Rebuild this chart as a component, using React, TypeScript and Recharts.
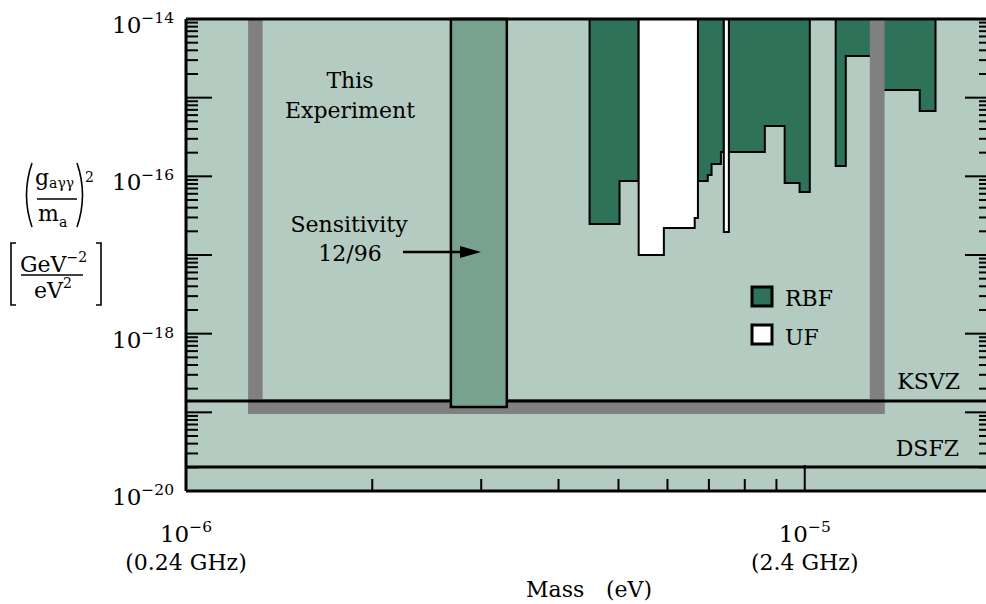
import React from 'react';
import { ComposedChart, Area, XAxis, YAxis, ReferenceArea, ReferenceLine } from 'recharts';

const FONT = '"DejaVu Serif", "Liberation Serif", serif';

// Mass axis (eV), log scale
const massDomain = [1e-6, 2e-5];
const massTicks = [1e-6, 2e-6, 3e-6, 4e-6, 5e-6, 6e-6, 7e-6, 8e-6, 9e-6, 1e-5];
const massTickLabels = [
  { value: 1e-6, exp: '\u22126', freq: '(0.24 GHz)' },
  { value: 1e-5, exp: '\u22125', freq: '(2.4 GHz)' },
];

// Coupling axis (GeV^-2 / eV^2), log scale
const couplingDomain = [1e-20, 1e-14];
const couplingTicks = [
  1e-20, 2e-20, 3e-20, 4e-20, 5e-20, 6e-20, 7e-20, 8e-20, 9e-20,
  1e-19, 2e-19, 3e-19, 4e-19, 5e-19, 6e-19, 7e-19, 8e-19, 9e-19,
  1e-18, 2e-18, 3e-18, 4e-18, 5e-18, 6e-18, 7e-18, 8e-18, 9e-18,
  1e-17, 2e-17, 3e-17, 4e-17, 5e-17, 6e-17, 7e-17, 8e-17, 9e-17,
  1e-16, 2e-16, 3e-16, 4e-16, 5e-16, 6e-16, 7e-16, 8e-16, 9e-16,
  1e-15, 2e-15, 3e-15, 4e-15, 5e-15, 6e-15, 7e-15, 8e-15, 9e-15,
  1e-14,
];
const couplingTickLabels = [
  { value: 1e-14, exp: '\u221214' },
  { value: 1e-16, exp: '\u221216' },
  { value: 1e-18, exp: '\u221218' },
  { value: 1e-20, exp: '\u221220' },
];

// RBF exclusion (step boundary, excluded region above it)
const rbfMass = [4.49e-6, 4.49e-6, 5.02e-6, 5.39e-6, 6.72e-6, 6.97e-6, 7.07e-6, 7.32e-6, 7.40e-6, 7.54e-6, 8.62e-6, 9.28e-6, 9.81e-6, 1.019e-5, 1.122e-5, 1.165e-5, 1.31e-5, 1.534e-5, 1.627e-5];
const rbfLimit = [1e-14, 2.48e-17, 8.73e-17, 1e-14, 8.73e-17, 1.04e-16, 1.44e-16, 2.04e-16, 1e-14, 2.04e-16, 4.36e-16, 8.23e-17, 6.32e-17, 1e-14, 1.35e-16, 3.39e-15, 1.25e-15, 6.77e-16, 1e-14];

// UF exclusion
const ufMass = [5.39e-6, 5.39e-6, 5.92e-6, 6.64e-6, 6.72e-6, 7.40e-6, 7.54e-6];
const ufLimit = [1e-14, 1.0e-17, 2.21e-17, 2.95e-17, 1e-14, 1.96e-17, 1e-14];

// This experiment's region (gray frame) and sensitivity band
const expMass = [1.26e-6, 1.33e-6, 1.274e-5, 1.346e-5];
const expLimit = [9.5e-20, 1.48e-19];
const sensMass = [2.68e-6, 3.30e-6];
const sensLimit = 1.17e-19;

// Model lines
const ksvz = 1.39e-19;
const dsfz = 2.02e-20;

const rbfData = rbfMass.map((x, i) => ({ x, y: rbfLimit[i] }));
const ufData = ufMass.map((x, i) => ({ x, y: ufLimit[i] }));

const COLORS = {
  bg: '#b4cbc1',
  rbf: '#2f725a',
  uf: '#ffffff',
  sens: '#78a28e',
  gray: '#808080',
};

const isDecade = (v: number) => {
  const l = Math.log10(v);
  return Math.abs(l - Math.round(l)) < 1e-6;
};
const same = (a: number, b: number) => Math.abs(a - b) / Math.abs(b) < 1e-6;

const MAJOR = 26;
const MINOR = 12;
const TXT = 22;

const LeftTick = (props: any) => {
  const { x, y, payload } = props;
  const v = payload.value;
  const len = isDecade(v) ? MAJOR : MINOR;
  const lbl = couplingTickLabels.find((l) => same(v, l.value));
  return (
    <g>
      <line x1={x} x2={x + len} y1={y} y2={y} stroke="#000" strokeWidth={2} />
      {lbl && (
        <text x={x - 12} y={y + 14} textAnchor="end" fontFamily={FONT} fontSize={23} fill="#000">
          10<tspan dy={-10} fontSize={15.5}>{lbl.exp}</tspan>
        </text>
      )}
    </g>
  );
};

const RightTick = (props: any) => {
  const { x, y, payload } = props;
  const len = isDecade(payload.value) ? MAJOR : MINOR;
  return <line x1={x} x2={x - len} y1={y} y2={y} stroke="#000" strokeWidth={2} />;
};

const BottomTick = (props: any) => {
  const { x, y, payload } = props;
  const v = payload.value;
  const len = isDecade(v) ? MAJOR : MINOR;
  const lbl = massTickLabels.find((l) => same(v, l.value));
  return (
    <g>
      <line x1={x} x2={x} y1={y} y2={y - len} stroke="#000" strokeWidth={2} />
      {lbl && (
        <g>
          <text x={x} y={y + 51} textAnchor="middle" fontFamily={FONT} fontSize={23} fill="#000">
            10<tspan dy={-10} fontSize={15.5}>{lbl.exp}</tspan>
          </text>
          <text x={x} y={y + 79} textAnchor="middle" fontFamily={FONT} fontSize={TXT} fill="#000">
            {lbl.freq}
          </text>
        </g>
      )}
    </g>
  );
};

const TopTick = (props: any) => {
  const { x, y, payload } = props;
  const len = isDecade(payload.value) ? MAJOR : MINOR;
  return <line x1={x} x2={x} y1={y} y2={y + len} stroke="#000" strokeWidth={2} />;
};

const axisLine = { stroke: '#000', strokeWidth: 3 };

const Overlay = () => (
  <svg
    width={986}
    height={604}
    style={{ position: 'absolute', left: 0, top: 0, pointerEvents: 'none' }}
  >
    <g fontFamily={FONT} fill="#000">
      {/* y-axis title */}
      <path d="M32,163 Q21,195 32,227" stroke="#000" strokeWidth={1.6} fill="none" />
      <path d="M77,163 Q88,195 77,227" stroke="#000" strokeWidth={1.6} fill="none" />
      <text x={35} y={185} fontSize={22}>
        g<tspan dy={3} fontSize={14}>a&#947;&#947;</tspan>
      </text>
      <line x1={37} x2={77} y1={199} y2={199} stroke="#000" strokeWidth={1.5} />
      <text x={38} y={221} fontSize={22}>
        m<tspan dy={6} fontSize={14}>a</tspan>
      </text>
      <text x={85} y={182} fontSize={14}>2</text>
      <path d="M16,243 H11 V305 H16" stroke="#000" strokeWidth={1.6} fill="none" />
      <path d="M96,243 H101 V305 H96" stroke="#000" strokeWidth={1.6} fill="none" />
      <text x={20} y={272} fontSize={22}>
        GeV<tspan dy={-10} fontSize={14}>{'\u22122'}</tspan>
      </text>
      <line x1={21} x2={83} y1={275} y2={275} stroke="#000" strokeWidth={1.5} />
      <text x={34} y={298} fontSize={22}>
        eV<tspan dy={-10} fontSize={14}>2</tspan>
      </text>

      {/* x-axis title */}
      <text x={526} y={597} fontSize={TXT}>Mass</text>
      <text x={606} y={597} fontSize={TXT}>(eV)</text>

      {/* annotations */}
      <text x={350} y={88} fontSize={TXT} textAnchor="middle">This</text>
      <text x={350} y={118} fontSize={TXT} textAnchor="middle">Experiment</text>
      <text x={349} y={232} fontSize={TXT} textAnchor="middle">Sensitivity</text>
      <text x={350} y={261} fontSize={TXT} textAnchor="middle">12/96</text>
      <line x1={403} x2={464} y1={252} y2={252} stroke="#000" strokeWidth={2.5} />
      <polygon points="460,246 481,252 460,258" fill="#000" />

      {/* legend */}
      <rect x={752} y={287} width={20} height={19} fill={COLORS.rbf} stroke="#000" strokeWidth={3} />
      <text x={785} y={306} fontSize={TXT}>RBF</text>
      <rect x={752} y={325} width={20} height={19} fill={COLORS.uf} stroke="#000" strokeWidth={3} />
      <text x={785} y={345} fontSize={TXT}>UF</text>

      {/* model labels */}
      <text x={960} y={389} fontSize={TXT} textAnchor="end">KSVZ</text>
      <text x={959} y={456} fontSize={TXT} textAnchor="end">DSFZ</text>
    </g>
  </svg>
);

export default function App() {
  return (
    <div
      style={{
        position: 'fixed',
        left: 0,
        top: 0,
        width: 986,
        height: 604,
        overflow: 'hidden',
        background: '#fff',
      }}
    >
      <ComposedChart width={1000} height={604} margin={{ top: 0, right: 0, bottom: 0, left: 0 }}>
        <XAxis
          xAxisId={0}
          type="number"
          dataKey="x"
          scale="log"
          domain={massDomain}
          ticks={massTicks}
          interval={0}
          height={113}
          tickSize={0}
          tickMargin={0}
          tickLine={false}
          axisLine={axisLine}
          tick={BottomTick}
          allowDataOverflow
        />
        <XAxis
          xAxisId="top"
          orientation="top"
          type="number"
          scale="log"
          domain={massDomain}
          ticks={massTicks}
          interval={0}
          height={19}
          tickSize={0}
          tickMargin={0}
          tickLine={false}
          axisLine={axisLine}
          tick={TopTick}
          allowDataOverflow
        />
        <YAxis
          yAxisId={0}
          type="number"
          scale="log"
          domain={couplingDomain}
          ticks={couplingTicks}
          interval={0}
          width={186}
          tickSize={0}
          tickMargin={0}
          tickLine={false}
          axisLine={axisLine}
          tick={LeftTick}
          allowDataOverflow
        />
        <YAxis
          yAxisId="right"
          orientation="right"
          type="number"
          scale="log"
          domain={couplingDomain}
          ticks={couplingTicks}
          interval={0}
          width={9}
          tickSize={0}
          tickMargin={0}
          tickLine={false}
          axisLine={axisLine}
          tick={RightTick}
          allowDataOverflow
        />

        <ReferenceArea
          x1={massDomain[0]}
          x2={massDomain[1]}
          y1={couplingDomain[0]}
          y2={couplingDomain[1]}
          fill={COLORS.bg}
          fillOpacity={1}
          stroke="none"
          zIndex={1}
        />

        <Area
          data={rbfData}
          dataKey="y"
          type="stepAfter"
          baseValue={couplingDomain[1]}
          fill={COLORS.rbf}
          fillOpacity={1}
          stroke="#000"
          strokeWidth={2}
          dot={false}
          activeDot={false}
          isAnimationActive={false}
          zIndex={2}
        />
        <Area
          data={ufData}
          dataKey="y"
          type="stepAfter"
          baseValue={couplingDomain[1]}
          fill={COLORS.uf}
          fillOpacity={1}
          stroke="#000"
          strokeWidth={2}
          dot={false}
          activeDot={false}
          isAnimationActive={false}
          zIndex={3}
        />

        <ReferenceArea x1={expMass[0]} x2={expMass[1]} y1={expLimit[0]} y2={couplingDomain[1]} fill={COLORS.gray} fillOpacity={1} stroke="none" zIndex={4} />
        <ReferenceArea x1={expMass[2]} x2={expMass[3]} y1={expLimit[0]} y2={couplingDomain[1]} fill={COLORS.gray} fillOpacity={1} stroke="none" zIndex={4} />
        <ReferenceArea x1={expMass[0]} x2={expMass[3]} y1={expLimit[0]} y2={expLimit[1]} fill={COLORS.gray} fillOpacity={1} stroke="none" zIndex={4} />

        <ReferenceLine y={ksvz} stroke="#000" strokeWidth={3} zIndex={5} />
        <ReferenceLine y={dsfz} stroke="#000" strokeWidth={3} zIndex={5} />

        <ReferenceArea
          x1={sensMass[0]}
          x2={sensMass[1]}
          y1={sensLimit}
          y2={couplingDomain[1]}
          fill={COLORS.sens}
          fillOpacity={1}
          stroke="#000"
          strokeWidth={2.5}
          zIndex={6}
        />
      </ComposedChart>
      <Overlay />
    </div>
  );
}
